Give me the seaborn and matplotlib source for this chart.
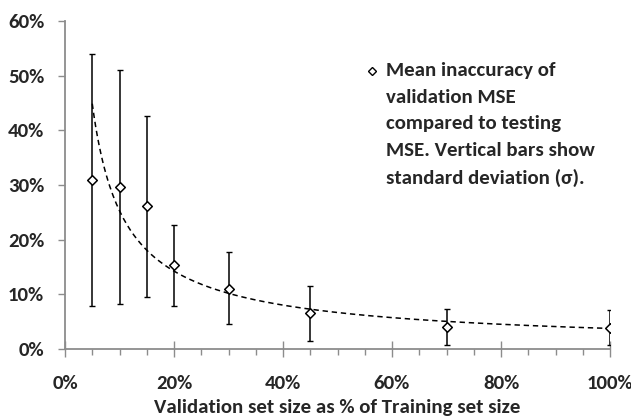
import numpy as np
import pandas as pd
import matplotlib
matplotlib.use("Agg")
import matplotlib.pyplot as plt
import seaborn as sns

# Data (percent)
val_size = [5, 10, 15, 20, 30, 45, 70, 100]
mean_inacc = [31.0, 29.7, 26.2, 15.3, 11.0, 6.5, 4.0, 3.9]
err_top = [53.9, 51.1, 42.7, 22.7, 17.7, 11.6, 7.3, 7.1]
err_bottom = [7.9, 8.2, 9.6, 7.9, 4.5, 1.5, 0.7, 0.7]
x_ticks = [0, 20, 40, 60, 80, 100]
y_ticks = [0, 10, 20, 30, 40, 50, 60]
legend_text = ("Mean inaccuracy of\nvalidation MSE\ncompared to testing\n"
               "MSE. Vertical bars show\nstandard deviation (σ).")
x_label = "Validation set size as % of Training set size"

sns.set_theme(style="white")
plt.rcParams['font.family'] = ['Carlito', 'DejaVu Sans']
plt.rcParams['font.weight'] = 'bold'

df = pd.DataFrame({"x": val_size, "y": mean_inacc})

fig = plt.figure(figsize=(6.31, 4.16), dpi=100)
ax = fig.add_axes([65 / 631, 1 - 349 / 416, (610 - 65) / 631, (349 - 21) / 416])

# Power trendline (least-squares fit in log-log space, like a spreadsheet power trend)
b, ln_a = np.polyfit(np.log(df["x"]), np.log(df["y"]), 1)
xs = np.linspace(min(val_size), max(val_size), 300)
trend = pd.DataFrame({"x": xs, "y": np.exp(ln_a) * xs ** b})
sns.lineplot(data=trend, x="x", y="y", ax=ax, color="black", lw=1.1,
             linestyle=(0, (3.5, 2.5)), zorder=2)

# Error bars
yerr = [np.array(mean_inacc) - np.array(err_bottom), np.array(err_top) - np.array(mean_inacc)]
ax.errorbar(val_size, mean_inacc, yerr=yerr, fmt="none", ecolor="black",
            elinewidth=1.1, capsize=2, capthick=1.0, zorder=3)

sns.scatterplot(data=df, x="x", y="y", ax=ax, marker="D", s=24,
                facecolor="white", edgecolor="black", linewidth=1.1, zorder=4)

ax.set_xlim(0, 100)
ax.set_ylim(0, 60)
ax.set_xticks(x_ticks)
ax.set_xticklabels([f"{v}%" for v in x_ticks], fontsize=15, fontweight="bold")
ax.set_xticks(np.arange(0, 101, 5), minor=True)
ax.set_yticks(y_ticks)
ax.set_yticklabels([f"{v}%" for v in y_ticks], fontsize=15, fontweight="bold")
ax.set_xlabel(x_label, fontsize=15, fontweight="bold", labelpad=5)
ax.set_ylabel("")

for s in ["top", "right"]:
    ax.spines[s].set_visible(False)
for s in ["left", "bottom"]:
    ax.spines[s].set_color("#8c8c8c")
    ax.spines[s].set_linewidth(1.3)

ax.tick_params(axis="x", which="major", direction="inout", length=12, width=1.0,
               color="#8c8c8c", pad=13, bottom=True)
ax.tick_params(axis="x", which="minor", direction="out", length=4, width=1.0,
               color="#8c8c8c", bottom=True)
ax.tick_params(axis="y", which="major", direction="out", length=5, width=1.0,
               color="#8c8c8c", pad=10, left=True)

# Legend-style annotation (marker + multi-line description)
fig.text(386 / 631, 1 - 62 / 416, legend_text, fontsize=15, fontweight="bold",
         va="top", ha="left", linespacing=1.68)
fig.add_artist(plt.Line2D([372 / 631], [1 - 71 / 416], marker="D", markersize=4.2,
                          markerfacecolor="white", markeredgecolor="black",
                          markeredgewidth=1.0, linestyle="none"))

fig.savefig("out.png", dpi=100)
